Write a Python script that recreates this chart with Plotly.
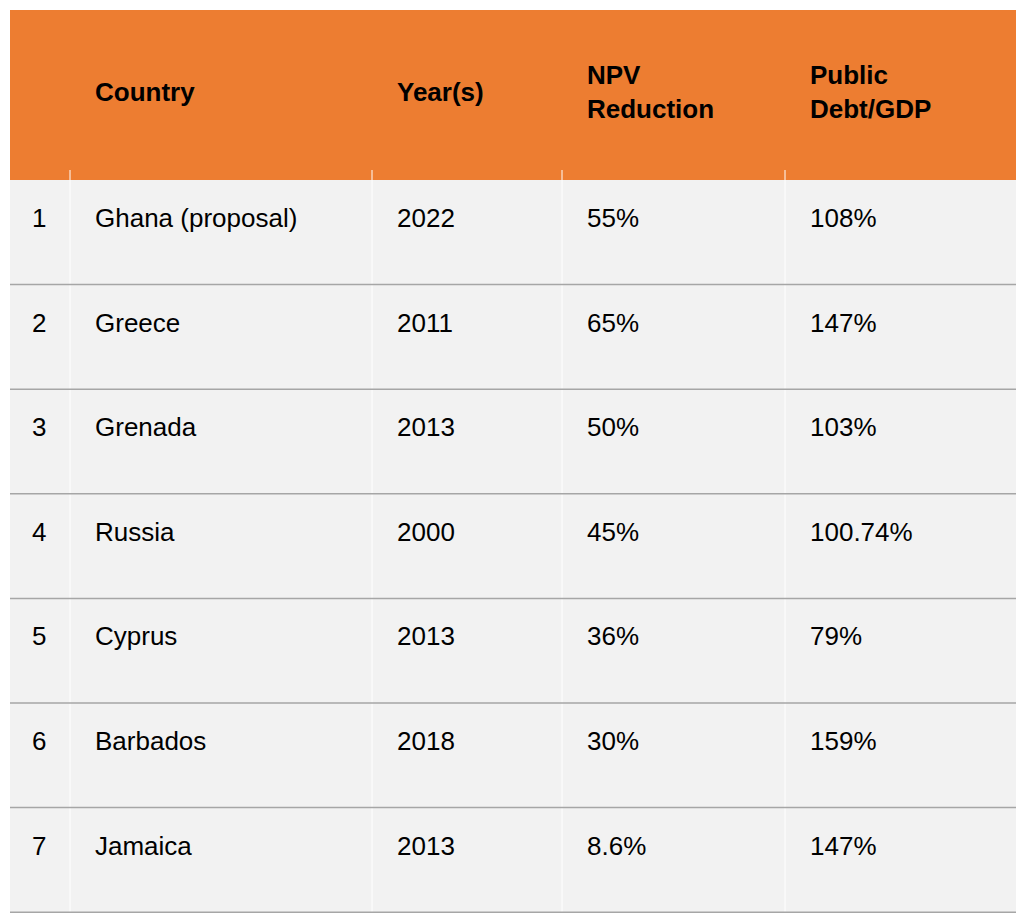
import plotly.graph_objects as go

headers = ["", "Country", "Year(s)", "NPV<br>Reduction", "Public<br>Debt/GDP"]
ranks = ["1", "2", "3", "4", "5", "6", "7"]
countries = ["Ghana (proposal)", "Greece", "Grenada", "Russia", "Cyprus", "Barbados", "Jamaica"]
years = ["2022", "2011", "2013", "2000", "2013", "2018", "2013"]
npv = ["55%", "65%", "50%", "45%", "36%", "30%", "8.6%"]
debt = ["108%", "147%", "103%", "100.74%", "79%", "159%", "147%"]

col_edges = [10, 70, 372, 562, 785, 1019]
text_x = [30, 93, 395, 585, 808]
head_top, head_bot = 10, 180
row_h = 104.6

fig = go.Figure()
shapes = [
    dict(type="rect", x0=10, x1=1019, y0=head_bot, y1=head_bot + row_h * 7,
         fillcolor="#f2f2f2", line_width=0, layer="below"),
    dict(type="rect", x0=10, x1=1019, y0=head_top, y1=head_bot,
         fillcolor="#ed7d31", line_width=0, layer="below"),
]
for x in col_edges[1:-1]:
    shapes.append(dict(type="line", x0=x, x1=x, y0=head_bot - 10, y1=head_bot + row_h * 7,
                       line=dict(color="#ffffff", width=1)))
for i in range(1, 8):
    y = head_bot + row_h * i
    shapes.append(dict(type="line", x0=10, x1=1019, y0=y, y1=y,
                       line=dict(color="#a6a6a6", width=1.5)))

ann = []
font = dict(family="Liberation Sans, Arial", size=26, color="#000000")
for j, h in enumerate(headers):
    if h:
        ann.append(dict(x=text_x[j], y=92, text="<b>" + h + "</b>", showarrow=False,
                        xanchor="left", yanchor="middle", align="left", font=font))
columns = [ranks, countries, years, npv, debt]
for j, col in enumerate(columns):
    for i, v in enumerate(col):
        ann.append(dict(x=text_x[j], y=head_bot + row_h * i + 38, text=v, showarrow=False,
                        xanchor="left", yanchor="middle", font=font))

# page body has an 8px margin, so offset the axis ranges to land on window pixels
fig.update_layout(
    width=1008, height=906, margin=dict(l=0, r=0, t=0, b=0),
    plot_bgcolor="white", paper_bgcolor="white",
    xaxis=dict(range=[8, 1016], visible=False, fixedrange=True),
    yaxis=dict(range=[914, 8], visible=False, fixedrange=True),
    shapes=shapes, annotations=ann, showlegend=False,
)
fig.write_html("out.html")
